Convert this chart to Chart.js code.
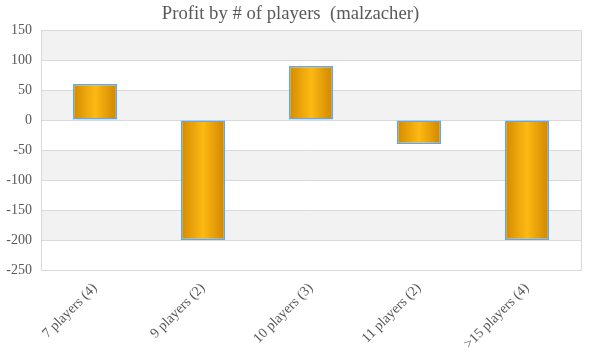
<!DOCTYPE html>
<html>
<head>
<meta charset="utf-8">
<script src="https://cdn.jsdelivr.net/npm/chart.js@4/dist/chart.umd.min.js"></script>
<style>
html,body{margin:0;padding:0;background:#fff;}
#wrap{width:600px;height:360px;}
</style>
</head>
<body>
<div id="wrap"><canvas id="c" width="600" height="360"></canvas></div>
<script>
const categories = ["7 players (4)", "9 players (2)", "10 players (3)", "11 players (2)", ">15 players (4)"];
const profits = [60, -200, 90, -40, -200];
const yMin = -250, yMax = 150, yStep = 50;
const bandStarts = [100, 0, -100, -200]; // shaded bands: [start, start+50]

const FONT = "'Liberation Serif', 'DejaVu Serif', serif";
const BAR_PCT = 0.41;

function barGradient(ctx) {
  const chart = ctx.chart;
  const xs = chart.scales.x;
  if (!chart.chartArea || !xs) return '#f0a800';
  const cx = xs.getPixelForValue(ctx.dataIndex);
  const w = (chart.chartArea.right - chart.chartArea.left) / categories.length * BAR_PCT;
  const g = chart.ctx.createLinearGradient(cx - w / 2, 0, cx + w / 2, 0);
  g.addColorStop(0, '#d38a00');
  g.addColorStop(0.5, '#fdb913');
  g.addColorStop(1, '#d08600');
  return g;
}

const bandsPlugin = {
  id: 'bands',
  beforeDraw(chart) {
    const { ctx, chartArea: a, scales: { y } } = chart;
    ctx.save();
    ctx.fillStyle = '#f2f2f2';
    bandStarts.forEach(s => {
      const top = y.getPixelForValue(s + yStep);
      const bot = y.getPixelForValue(s);
      ctx.fillRect(a.left, top, a.right - a.left, bot - top);
    });
    ctx.restore();
  },
  beforeDatasetsDraw(chart) {
    const { ctx, chartArea: a } = chart;
    ctx.save();
    ctx.strokeStyle = '#d9d9d9';
    ctx.lineWidth = 1;
    ctx.strokeRect(Math.round(a.left) + 0.5, Math.round(a.top) + 0.5, Math.round(a.right - a.left), Math.round(a.bottom - a.top));
    ctx.restore();
  }
};

new Chart(document.getElementById('c'), {
  type: 'bar',
  data: {
    labels: categories,
    datasets: [{
      data: profits,
      backgroundColor: barGradient,
      borderColor: '#5ea8ee',
      borderWidth: 1.5,
      borderSkipped: false,
      barPercentage: BAR_PCT,
      categoryPercentage: 1
    }]
  },
  options: {
    responsive: false,
    animation: false,
    devicePixelRatio: 1,
    layout: { padding: { left: 0, right: 19, top: 0, bottom: 0 } },
    plugins: {
      legend: { display: false },
      tooltip: { enabled: false },
      title: {
        display: true,
        text: 'Profit by # of players  (malzacher)',
        color: '#595959',
        font: { family: FONT, size: 18.7, weight: 'normal' },
        padding: { top: 3, bottom: 4.6 }
      }
    },
    scales: {
      x: {
        grid: { display: false },
        border: { display: false },
        ticks: {
          color: '#595959',
          font: { family: FONT, size: 14 },
          maxRotation: 45,
          minRotation: 45,
          padding: 2
        },
        afterFit(s) { s.height = 90; }
      },
      y: {
        min: yMin,
        max: yMax,
        grid: { color: '#d9d9d9', lineWidth: 1, drawTicks: false },
        border: { display: true, color: '#d9d9d9' },
        ticks: {
          stepSize: yStep,
          color: '#595959',
          font: { family: FONT, size: 14 },
          padding: 9
        },
        afterFit(s) { s.width = 41; }
      }
    }
  },
  plugins: [bandsPlugin]
});
</script>
</body>
</html>
